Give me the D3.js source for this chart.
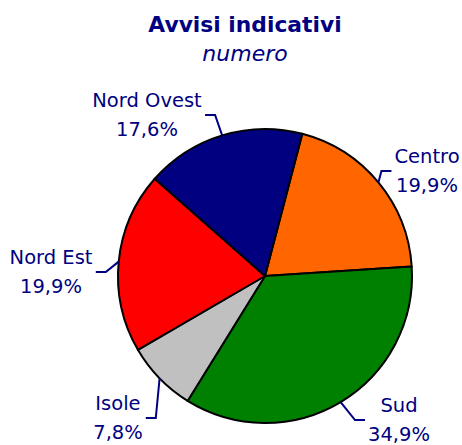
<!DOCTYPE html>
<html>
<head>
<meta charset="utf-8">
<script src="https://cdn.jsdelivr.net/npm/d3@7"></script>
<style>
  body { margin: 0; background: #fff; }
  text { font-family: "DejaVu Sans", Verdana, sans-serif; fill: #000080; }
</style>
</head>
<body>
<svg id="chart" width="462" height="445"></svg>
<script>
// data, clockwise from the top
const regions = ["Centro", "Sud", "Isole", "Nord Est", "Nord Ovest"];
const shares = [19.9, 34.9, 7.8, 19.9, 17.6];
const sliceColors = ["#ff6600", "#008000", "#c0c0c0", "#ff0000", "#000080"];

// where each label block sits (centre of the two lines)
const labelCentres = [[427, 171], [399, 420], [118, 418], [51, 272], [147, 115]];

const cx = 265, cy = 276, radius = 147;
const startDeg = 14.7;

const svg = d3.select("#chart");

svg.append("text")
    .attr("x", 245).attr("y", 32)
    .attr("text-anchor", "middle")
    .attr("font-size", "21.8px")
    .attr("font-weight", "bold")
    .text("Avvisi indicativi");

svg.append("text")
    .attr("x", 245).attr("y", 61)
    .attr("text-anchor", "middle")
    .attr("font-size", "22px")
    .attr("font-style", "italic")
    .text("numero");

const data = regions.map((name, i) => ({name, value: shares[i], color: sliceColors[i], place: labelCentres[i]}));

const start = startDeg * Math.PI / 180;
const pie = d3.pie()
    .sort(null)
    .value(d => d.value)
    .startAngle(start)
    .endAngle(start + 2 * Math.PI);

const arc = d3.arc().innerRadius(0).outerRadius(radius);

const arcs = pie(data);

const g = svg.append("g").attr("transform", `translate(${cx},${cy})`);

g.selectAll("path")
  .data(arcs)
  .join("path")
    .attr("d", arc)
    .attr("fill", d => d.data.color)
    .attr("stroke", "#000")
    .attr("stroke-width", 2)
    .attr("stroke-linejoin", "round");

const fmt = v => d3.format(".1f")(v).replace(".", ",") + "%";

arcs.forEach(d => {
  const [lx, ly] = d.data.place;
  const label = svg.append("text")
      .attr("text-anchor", "middle")
      .attr("font-size", "19.5px");
  label.append("tspan").attr("x", lx).attr("y", ly - 8).text(d.data.name);
  label.append("tspan").attr("x", lx).attr("y", ly + 21).text(fmt(d.data.value));

  const box = label.node().getBBox();
  const mid = (d.startAngle + d.endAngle) / 2;
  const ax = cx + radius * Math.sin(mid);
  const ay = cy - radius * Math.cos(mid);
  const fromLeft = lx > ax;
  const endX = fromLeft ? box.x - 3 : box.x + box.width + 3;
  const elbowX = fromLeft ? endX - 10 : endX + 10;

  svg.append("path")
      .attr("d", d3.line()([[ax, ay], [elbowX, ly], [endX, ly]]))
      .attr("fill", "none")
      .attr("stroke", "#000080")
      .attr("stroke-width", 2);
});
</script>
</body>
</html>
